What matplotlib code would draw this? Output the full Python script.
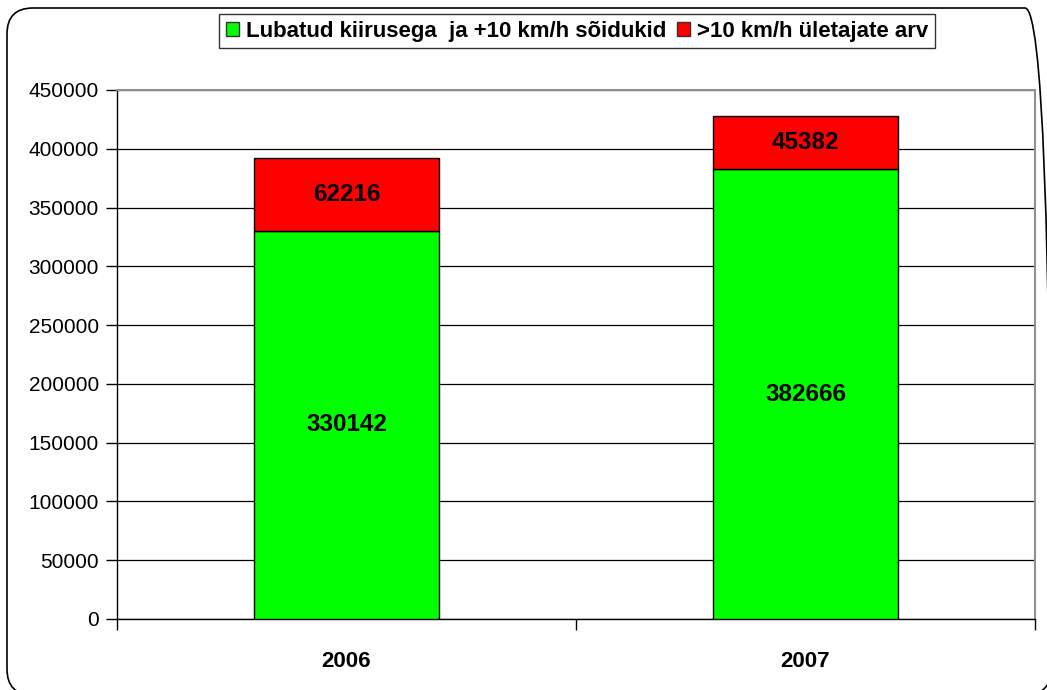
import matplotlib.pyplot as plt
from matplotlib.patches import FancyBboxPatch, Patch
from matplotlib.transforms import IdentityTransform
import numpy as np

years = ['2006', '2007']
lubatud = [330142, 382666]
uletajad = [62216, 45382]
yticks = [0, 50000, 100000, 150000, 200000, 250000, 300000, 350000, 400000, 450000]

plt.rcParams['font.family'] = ['Liberation Sans', 'DejaVu Sans']

fig = plt.figure(figsize=(10.47, 6.9), dpi=100)
ax = fig.add_axes([117/1047, 1 - 619/690, (1035 - 117)/1047, (619 - 90)/690])

# outer rounded frame in pixels (runs just off the right and bottom of the picture)
frame = FancyBboxPatch((7, -5), 1044, 687,
                       boxstyle="round,pad=0,rounding_size=26",
                       transform=IdentityTransform(), fill=False,
                       edgecolor='black', linewidth=1.2)
fig.patches.append(frame)

x = np.arange(len(years))
w = 0.403
ax.bar(x, lubatud, w, color='#00ff00', edgecolor='black', linewidth=1, zorder=3)
ax.bar(x, uletajad, w, bottom=lubatud, color='#ff0000', edgecolor='black', linewidth=1, zorder=3)

for i in range(len(years)):
    ax.text(x[i], lubatud[i] / 2, str(lubatud[i]), ha='center', va='center',
            fontsize=17.5, fontweight='bold', zorder=4)
    ax.text(x[i], lubatud[i] + uletajad[i] / 2, str(uletajad[i]), ha='center', va='center',
            fontsize=17.5, fontweight='bold', zorder=4)

ax.set_xlim(-0.5, 1.5)
ax.set_ylim(0, 450000)
ax.set_yticks(yticks)
ax.set_yticklabels([str(t) for t in yticks], fontsize=15)
ax.yaxis.grid(True, color='black', linewidth=0.9, zorder=0)
ax.tick_params(axis='y', direction='out', length=8, width=1, pad=5)

ax.set_xticks([-0.5, 0.5, 1.5])
ax.set_xticklabels([])
ax.set_xticks(x, minor=True)
ax.set_xticklabels(years, minor=True, fontsize=16, fontweight='bold')
ax.tick_params(axis='x', which='major', direction='out', length=8, width=1)
ax.tick_params(axis='x', which='minor', length=0, pad=23)

for s in ['left', 'bottom']:
    ax.spines[s].set_color('black')
    ax.spines[s].set_linewidth(1)
for s in ['top', 'right']:
    ax.spines[s].set_color('#909090')
    ax.spines[s].set_linewidth(1.5)

handles = [Patch(facecolor='#00ff00', edgecolor='#333333'),
           Patch(facecolor='#ff0000', edgecolor='#333333')]
labels = ['Lubatud kiirusega  ja +10 km/h sõidukid', '>10 km/h ületajate arv']
leg = fig.legend(handles, labels, loc='center', bbox_to_anchor=(577/1047, 1 - 31/690),
                 ncol=2, frameon=True, fancybox=False, shadow=False,
                 prop={'size': 16, 'weight': 'bold'}, handlelength=0.6, handleheight=0.6,
                 handletextpad=0.3, columnspacing=0.5, borderpad=0.3, borderaxespad=0)
leg.get_frame().set_edgecolor('black')
leg.get_frame().set_linewidth(1)

fig.savefig('out.png', dpi=100)
